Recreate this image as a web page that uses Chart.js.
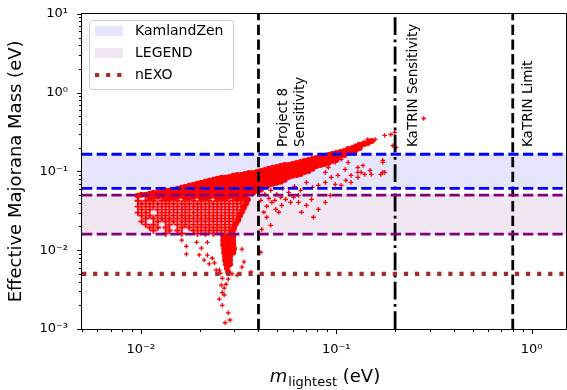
<!DOCTYPE html>
<html>
<head>
<meta charset="utf-8">
<script src="https://cdn.jsdelivr.net/npm/chart.js@4"></script>
<style>
    html, body { margin: 0; padding: 0; overflow: hidden; background: #fff; }
    #wrap { width: 572px; height: 390px; }
</style>
</head>
<body>
<div id="wrap"><canvas id="massChart" width="572" height="390"></canvas></div>
<script>
// Axis ranges and ticks
const xRange = [0.005, 1.5];
const yRange = [0.001, 10];
const xTickValues = [0.01, 0.1, 1];
const xTickLabels = ["10⁻²", "10⁻¹", "10⁰"];
const yTickValues = [0.001, 0.01, 0.1, 1, 10];
const yTickLabels = ["10⁻³", "10⁻²", "10⁻¹", "10⁰", "10¹"];

// Experimental limits (eV)
const kamlandZen = [0.061, 0.165];
const legendBand = [0.016, 0.05];
const nexoLimit = 0.005;
const project8 = 0.04;
const katrinSensitivity = 0.2;
const katrinLimit = 0.8;

// Scatter points (eV)
// dense upper band: [m_lightest, [m_bb values]]
const bandColumns = [
    [0.00966, [0.0491]], [0.0101, [0.0505]], [0.0106, [0.0505]],
    [0.0111, [0.0520, 0.0463]], [0.0116, [0.0535, 0.0477]], [0.0122, [0.0535, 0.0477]],
    [0.0128, [0.0551, 0.0491]], [0.0134, [0.0568, 0.0505, 0.0450]], [0.0140, [0.0568, 0.0505, 0.0450]],
    [0.0147, [0.0584, 0.0520, 0.0463]], [0.0154, [0.0601, 0.0535, 0.0477]],
    [0.0162, [0.0619, 0.0551, 0.0491]], [0.0169, [0.0637, 0.0568, 0.0505, 0.0450]],
    [0.0177, [0.0656, 0.0584, 0.0520, 0.0463]], [0.0186, [0.0676, 0.0601, 0.0535, 0.0477]],
    [0.0195, [0.0696, 0.0619, 0.0551, 0.0491]], [0.0204, [0.0716, 0.0637, 0.0568, 0.0505, 0.0450]],
    [0.0214, [0.0737, 0.0656, 0.0584, 0.0520, 0.0463]], [0.0224, [0.0759, 0.0676, 0.0601, 0.0535, 0.0477]],
    [0.0235, [0.0781, 0.0696, 0.0619, 0.0551, 0.0491]],
    [0.0246, [0.0804, 0.0716, 0.0637, 0.0568, 0.0505, 0.0450]],
    [0.0258, [0.0828, 0.0737, 0.0656, 0.0584, 0.0520, 0.0463]],
    [0.0270, [0.0828, 0.0737, 0.0656, 0.0584, 0.0520, 0.0463]],
    [0.0283, [0.0852, 0.0759, 0.0676, 0.0601, 0.0535, 0.0477]],
    [0.0297, [0.0878, 0.0781, 0.0696, 0.0619, 0.0551, 0.0491]],
    [0.0311, [0.0903, 0.0804, 0.0716, 0.0637, 0.0568, 0.0505, 0.0450]],
    [0.0326, [0.0903, 0.0804, 0.0716, 0.0637, 0.0568, 0.0505, 0.0450]],
    [0.0341, [0.0930, 0.0828, 0.0737, 0.0656, 0.0584, 0.0520, 0.0463]],
    [0.0358, [0.0957, 0.0852, 0.0759, 0.0676, 0.0601, 0.0535]],
    [0.0375, [0.0957, 0.0852, 0.0759, 0.0676, 0.0601, 0.0535]],
    [0.0393, [0.0986, 0.0878, 0.0781, 0.0696, 0.0619, 0.0568]],
    [0.0411, [0.1015, 0.0903, 0.0804, 0.0716, 0.0637, 0.0584]],
    [0.0431, [0.104, 0.0930, 0.0828, 0.0737, 0.0656]],
    [0.0452, [0.108, 0.0957, 0.0852, 0.0759, 0.0676]],
    [0.0473, [0.111, 0.0986, 0.0878, 0.0781, 0.0696]],
    [0.0496, [0.114, 0.1015, 0.0903, 0.0804, 0.0716]],
    [0.0520, [0.117, 0.104, 0.0930, 0.0828, 0.0737]],
    [0.0545, [0.121, 0.108, 0.0957, 0.0852, 0.0781]],
    [0.0571, [0.121, 0.108, 0.0957, 0.0852]],
    [0.0598, [0.124, 0.111, 0.0986, 0.0878]],
    [0.0627, [0.128, 0.114, 0.1015, 0.0903]],
    [0.0657, [0.132, 0.117, 0.104, 0.0930]],
    [0.0688, [0.136, 0.121, 0.108, 0.0986]],
    [0.0721, [0.140, 0.124, 0.111, 0.1015]],
    [0.0756, [0.144, 0.128, 0.114, 0.108]],
    [0.0792, [0.148, 0.132, 0.117]], [0.0830, [0.152, 0.136, 0.121]],
    [0.0869, [0.157, 0.140, 0.124]], [0.0911, [0.162, 0.144, 0.128]],
    [0.0954, [0.166, 0.148, 0.136]], [0.100, [0.171, 0.152, 0.140]],
    [0.105, [0.176, 0.157]], [0.110, [0.181, 0.162]], [0.115, [0.192, 0.171]],
    [0.121, [0.198, 0.176]], [0.126, [0.204, 0.187]], [0.132, [0.216, 0.198]],
    [0.139, [0.222]], [0.145, [0.229]], [0.152, [0.243]]
];

// speckled cloud under the band: [m_bb, [m_lightest values]]
const cloudRows = [
    [0.0424, [0.00966, 0.0106, 0.0116, 0.0128, 0.0140, 0.0154, 0.0169, 0.0186, 0.0204, 0.0224, 0.0246, 0.0270, 0.0297, 0.0326]],
    [0.0389, [0.0101, 0.0111, 0.0122, 0.0134, 0.0147, 0.0162, 0.0177, 0.0195, 0.0214, 0.0235, 0.0258, 0.0283, 0.0311, 0.0341]],
    [0.0357, [0.00966, 0.0106, 0.0116, 0.0128, 0.0140, 0.0154, 0.0169, 0.0186, 0.0204, 0.0224, 0.0246, 0.0270, 0.0297, 0.0326]],
    [0.0327, [0.0101, 0.0111, 0.0122, 0.0134, 0.0147, 0.0162, 0.0177, 0.0195, 0.0214, 0.0235, 0.0258, 0.0283, 0.0311]],
    [0.0300, [0.00966, 0.0106, 0.0128, 0.0140, 0.0154, 0.0169, 0.0186, 0.0204, 0.0224, 0.0246, 0.0270, 0.0297, 0.0326]],
    [0.0275, [0.0101, 0.0111, 0.0122, 0.0134, 0.0147, 0.0162, 0.0177, 0.0195, 0.0214, 0.0235, 0.0258, 0.0283, 0.0311]],
    [0.0252, [0.0106, 0.0116, 0.0128, 0.0140, 0.0154, 0.0169, 0.0186, 0.0204, 0.0224, 0.0246, 0.0270, 0.0297]],
    [0.0231, [0.0101, 0.0122, 0.0134, 0.0147, 0.0162, 0.0177, 0.0195, 0.0214, 0.0235, 0.0258, 0.0283, 0.0311]],
    [0.0211, [0.0106, 0.0116, 0.0140, 0.0154, 0.0169, 0.0186, 0.0204, 0.0224, 0.0246, 0.0270, 0.0297]],
    [0.0194, [0.0111, 0.0122, 0.0134, 0.0162, 0.0177, 0.0195, 0.0214, 0.0235, 0.0258, 0.0283]],
    [0.0178, [0.0116, 0.0140, 0.0154, 0.0186, 0.0204, 0.0224, 0.0246, 0.0270, 0.0297]],
    [0.0163, [0.0134, 0.0162, 0.0195, 0.0214, 0.0235, 0.0258, 0.0283]]
];

// right arm of the funnel and the vertical column below it
const funnelPoints = [
    [0.0353, 0.0437], [0.0345, 0.0389], [0.0337, 0.0346], [0.0329, 0.0308], [0.0322, 0.0275],
    [0.0315, 0.0244], [0.0307, 0.0218], [0.0300, 0.0194], [0.0293, 0.0172], [0.0290, 0.0154],
    [0.0264, 0.0149], [0.0280, 0.0149], [0.0297, 0.0149],
    [0.0264, 0.0133], [0.0280, 0.0133], [0.0297, 0.0133],
    [0.0264, 0.0118], [0.0280, 0.0118], [0.0297, 0.0118],
    [0.0267, 0.0105], [0.0283, 0.0105], [0.0300, 0.0105],
    [0.0267, 0.00937], [0.0283, 0.00937], [0.0297, 0.00937],
    [0.0270, 0.00834], [0.0286, 0.00834], [0.0270, 0.00743], [0.0286, 0.00743],
    [0.0273, 0.00661], [0.0286, 0.00661], [0.0276, 0.00589], [0.0280, 0.00524]
];

// isolated points
const sparsePoints = [
    [0.0162, 0.0134], [0.0171, 0.0112], [0.0171, 0.0089], [0.0193, 0.0126], [0.0204, 0.0106],
    [0.0219, 0.0126], [0.0219, 0.00865], [0.0232, 0.0079], [0.0238, 0.0069], [0.0243, 0.0056],
    [0.0224, 0.0067], [0.0211, 0.0075], [0.0199, 0.0087], [0.0252, 0.0056], [0.0329, 0.0103],
    [0.0329, 0.0061], [0.0366, 0.0053], [0.0293, 0.0050], [0.0311, 0.0048], [0.0337, 0.0071],
    [0.0411, 0.0094], [0.0261, 0.0044], [0.0273, 0.0037], [0.0258, 0.0036], [0.0261, 0.0029],
    [0.0267, 0.0027], [0.0252, 0.0024], [0.0261, 0.0020], [0.0280, 0.0016], [0.0286, 0.0013],
    [0.0270, 0.0012], [0.0267, 0.0033], [0.0280, 0.0043], [0.0255, 0.0051],
    [0.0426, 0.0303], [0.0441, 0.0262], [0.0468, 0.0405], [0.0490, 0.0330], [0.0508, 0.0303],
    [0.0526, 0.0371], [0.0551, 0.0442], [0.0584, 0.0405], [0.0605, 0.0469], [0.0641, 0.0405],
    [0.0664, 0.0303], [0.0704, 0.0371], [0.0747, 0.0442], [0.0764, 0.0262], [0.0810, 0.0330],
    [0.0879, 0.0405], [0.0932, 0.0497], [0.0988, 0.0685], [0.106, 0.0665], [0.112, 0.0769],
    [0.119, 0.0726], [0.129, 0.0840], [0.140, 0.0916], [0.151, 0.0916], [0.169, 0.0916],
    [0.0810, 0.0665], [0.0879, 0.0726], [0.0943, 0.0840], [0.102, 0.0890], [0.0416, 0.0184],
    [0.0462, 0.0207], [0.106, 0.142], [0.115, 0.130], [0.129, 0.112], [0.134, 0.0971],
    [0.173, 0.0971], [0.173, 0.138], [0.177, 0.286], [0.190, 0.294], [0.195, 0.213],
    [0.199, 0.312], [0.140, 0.233], [0.149, 0.247], [0.158, 0.254], [0.125, 0.213],
    [0.0988, 0.130], [0.0911, 0.112], [0.0879, 0.0971], [0.0810, 0.119], [0.111, 0.106],
    [0.119, 0.0890], [0.202, 0.201], [0.280, 0.469], [0.145, 0.254], [0.137, 0.233],
    [0.129, 0.220], [0.177, 0.0971], [0.173, 0.130], [0.137, 0.119], [0.129, 0.0971],
    [0.149, 0.103], [0.0431, 0.0512], [0.0462, 0.0575], [0.0496, 0.0512], [0.0532, 0.0609],
    [0.0571, 0.0542], [0.0612, 0.0646], [0.0657, 0.0575], [0.0704, 0.0726], [0.0755, 0.0627],
    [0.0452, 0.0455], [0.0520, 0.0469], [0.0641, 0.0497], [0.0411, 0.0430], [0.0441, 0.0361],
    [0.0485, 0.0430]
];

const RED = "#ff0000";
const BLUE = "rgb(0, 0, 255)";
const PURPLE = "rgb(128, 0, 128)";
const BROWN = "rgb(165, 42, 42)";
const FONT = "'DejaVu Sans', sans-serif";

const toXY = pts => pts.map(p => ({ x: p[0], y: p[1] }));
const hLine = v => [{ x: xRange[0], y: v }, { x: xRange[1], y: v }];
const vLine = v => [{ x: v, y: yRange[0] }, { x: v, y: yRange[1] }];

const bandPoints = [];
bandColumns.forEach(col => col[1].forEach(yv => bandPoints.push({ x: col[0], y: yv })));
const cloudPoints = [];
cloudRows.forEach(row => row[1].forEach(xv => cloudPoints.push({ x: xv, y: row[0] })));

function fillEdge(v, color, fill) {
    return { type: "line", data: hLine(v), fill: fill, backgroundColor: color,
        borderWidth: 0, pointRadius: 0, order: 3 };
}
function limitLine(data, color, dash, width) {
    return { type: "line", data: data, borderColor: color, borderDash: dash,
        borderWidth: width, pointRadius: 0, fill: false, order: 1 };
}
function markers(data, style, radius, width) {
    return { data: data, pointStyle: style, pointRadius: radius, pointBorderWidth: width,
        pointBackgroundColor: RED, pointBorderColor: RED, order: 2 };
}

// ticks, spines, legend and text labels
const decorations = {
    id: "decorations",
    afterDraw(chart) {
        const { ctx, chartArea: a, scales: { x, y } } = chart;
        ctx.save();
        ctx.strokeStyle = "#000";
        ctx.lineWidth = 1;
        ctx.strokeRect(Math.round(a.left) - 0.5, Math.round(a.top) - 0.5,
            Math.round(a.right - a.left) + 1, Math.round(a.bottom - a.top) + 1);

        // major + minor tick marks
        ctx.beginPath();
        for (let n = -3; n <= 1; n++) {
            for (let k = 1; k <= 9; k++) {
                const v = k * Math.pow(10, n);
                const len = k === 1 ? 5 : 3;
                if (v >= xRange[0] && v <= xRange[1]) {
                    const px = Math.round(x.getPixelForValue(v)) + 0.5;
                    ctx.moveTo(px, a.bottom);
                    ctx.lineTo(px, a.bottom + len);
                }
                if (v >= yRange[0] && v <= yRange[1]) {
                    const py = Math.round(y.getPixelForValue(v)) + 0.5;
                    ctx.moveTo(a.left, py);
                    ctx.lineTo(a.left - len, py);
                }
            }
        }
        ctx.stroke();

        // legend box
        ctx.fillStyle = "rgba(255,255,255,0.8)";
        ctx.strokeStyle = "#cccccc";
        ctx.beginPath();
        ctx.roundRect(89.5, 20.5, 144, 69, 3);
        ctx.fill();
        ctx.stroke();
        ctx.fillStyle = "rgba(0,0,255,0.1)";
        ctx.fillRect(95, 26, 28, 10);
        ctx.fillStyle = "rgba(128,0,128,0.1)";
        ctx.fillRect(95, 48, 28, 10);
        ctx.strokeStyle = BROWN;
        ctx.lineWidth = 4;
        ctx.setLineDash([4.2, 6.9]);
        ctx.beginPath();
        ctx.moveTo(95, 75);
        ctx.lineTo(124, 75);
        ctx.stroke();
        ctx.setLineDash([]);
        ctx.fillStyle = "#000";
        ctx.font = "14px " + FONT;
        ctx.textAlign = "left";
        ctx.textBaseline = "middle";
        ctx.fillText("KamlandZen", 135, 31);
        ctx.fillText("LEGEND", 135, 53);
        ctx.fillText("nEXO", 135, 75);

        // rotated labels next to the vertical lines
        const vText = (text, px) => {
            ctx.save();
            ctx.translate(px, 147);
            ctx.rotate(-Math.PI / 2);
            ctx.font = "13.5px " + FONT;
            ctx.textAlign = "left";
            ctx.textBaseline = "middle";
            ctx.fillText(text, 0, 0);
            ctx.restore();
        };
        const p8 = x.getPixelForValue(project8);
        vText("Project 8", p8 + 25);
        vText("Sensitivity", p8 + 42);
        vText("KaTRIN Sensitivity", x.getPixelForValue(katrinSensitivity) + 18);
        vText("KaTRIN Limit", x.getPixelForValue(katrinLimit) + 16);

        // axis titles
        ctx.save();
        ctx.translate(16, (a.top + a.bottom) / 2);
        ctx.rotate(-Math.PI / 2);
        ctx.font = "18px " + FONT;
        ctx.textAlign = "center";
        ctx.textBaseline = "middle";
        ctx.fillText("Effective Majorana Mass (eV)", 0, 0);
        ctx.restore();

        const fM = "italic 18px " + FONT, fSub = "13px " + FONT, fUnit = "18px " + FONT;
        ctx.font = fM; const wM = ctx.measureText("m").width;
        ctx.font = fSub; const wS = ctx.measureText("lightest").width;
        ctx.font = fUnit; const wU = ctx.measureText(" (eV)").width;
        let tx = (a.left + 567) / 2 - (wM + wS + wU) / 2;
        ctx.textAlign = "left";
        ctx.textBaseline = "alphabetic";
        ctx.font = fM; ctx.fillText("m", tx, 382); tx += wM + 1;
        ctx.font = fSub; ctx.fillText("lightest", tx, 386); tx += wS;
        ctx.font = fUnit; ctx.fillText(" (eV)", tx, 382);
        ctx.restore();
    }
};

const ctx = document.getElementById("massChart").getContext("2d");
new Chart(ctx, {
    type: "scatter",
    data: {
        datasets: [
            // bands (fills only)
            fillEdge(kamlandZen[1], "rgba(0,0,255,0.1)", "+1"),
            fillEdge(kamlandZen[0], "rgba(0,0,0,0)", false),
            fillEdge(legendBand[1], "rgba(128,0,128,0.1)", "+1"),
            fillEdge(legendBand[0], "rgba(0,0,0,0)", false),
            // scatter
            markers(bandPoints, "circle", 3, 0),
            markers(toXY(funnelPoints), "circle", 3, 0),
            markers(cloudPoints, "cross", 3.2, 1.9),
            markers(toXY(sparsePoints), "cross", 2.3, 1.3),
            // limit lines
            limitLine(hLine(kamlandZen[1]), BLUE, [10.3, 4.4], 2.8),
            limitLine(hLine(kamlandZen[0]), BLUE, [10.3, 4.4], 2.8),
            limitLine(hLine(legendBand[1]), PURPLE, [10.3, 4.4], 2.8),
            limitLine(hLine(legendBand[0]), PURPLE, [10.3, 4.4], 2.8),
            limitLine(hLine(nexoLimit), BROWN, [4.2, 6.9], 4.2),
            limitLine(vLine(project8), "#000", [10.3, 4.4], 2.8),
            limitLine(vLine(katrinSensitivity), "#000", [17.8, 4.4, 2.8, 4.4], 2.8),
            limitLine(vLine(katrinLimit), "#000", [10.3, 4.4], 2.8)
        ]
    },
    options: {
        responsive: false,
        animation: false,
        layout: { padding: { left: 0, top: 12, right: 2, bottom: 0 } },
        plugins: { legend: { display: false }, tooltip: { enabled: false } },
        scales: {
            x: {
                type: "logarithmic",
                min: xRange[0],
                max: xRange[1],
                afterBuildTicks: axis => { axis.ticks = xTickValues.map(v => ({ value: v })); },
                afterFit: axis => { axis.height = 61; },
                grid: { display: false },
                border: { display: false },
                ticks: {
                    autoSkip: false, maxRotation: 0, padding: 5, color: "#000",
                    font: { family: FONT, size: 13 },
                    callback: v => xTickLabels[xTickValues.indexOf(v)]
                }
            },
            y: {
                type: "logarithmic",
                min: yRange[0],
                max: yRange[1],
                afterBuildTicks: axis => { axis.ticks = yTickValues.map(v => ({ value: v })); },
                afterFit: axis => { axis.width = 82; },
                grid: { display: false },
                border: { display: false },
                ticks: {
                    autoSkip: false, padding: 6, color: "#000",
                    font: { family: FONT, size: 13 },
                    callback: v => yTickLabels[yTickValues.indexOf(v)]
                }
            }
        }
    },
    plugins: [decorations]
});
</script>
</body>
</html>
